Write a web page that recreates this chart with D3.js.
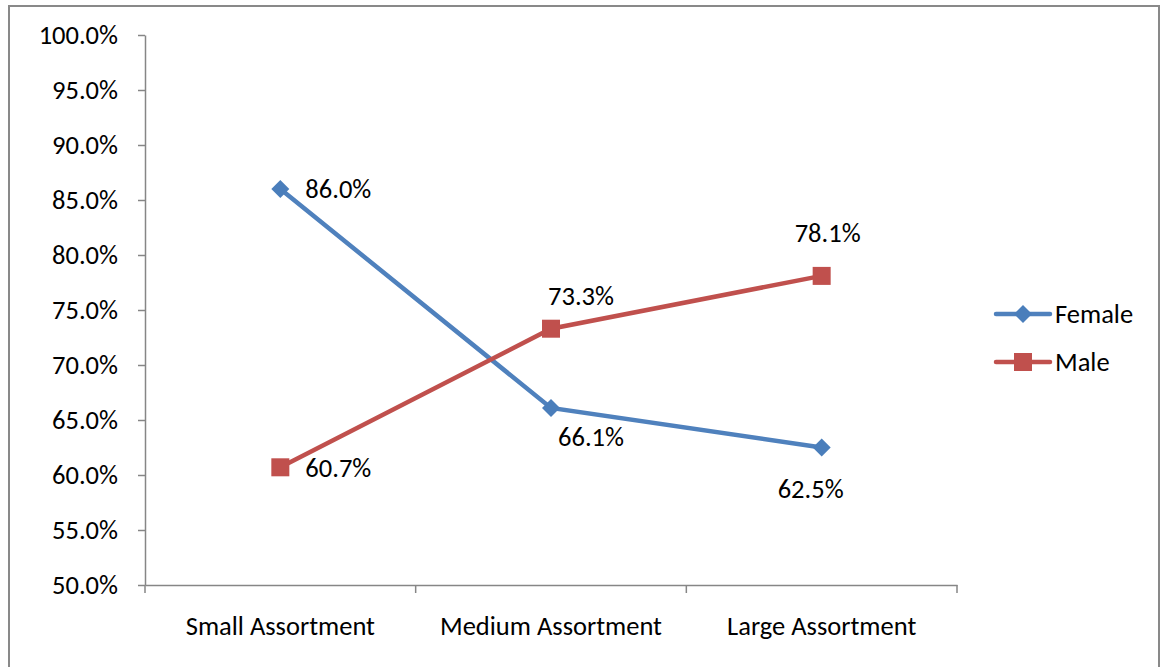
<!DOCTYPE html>
<html><head><meta charset="utf-8">
<script src="https://cdn.jsdelivr.net/npm/d3@7/dist/d3.min.js"></script>
<style>
body{margin:0;background:#fff;}
svg{display:block;font-family:Carlito,Calibri,Lato,"Open Sans",sans-serif;}
</style></head>
<body>
<script>
const categories = ["Small Assortment","Medium Assortment","Large Assortment"];
const femaleValues = [86.0, 66.1, 62.5];
const maleValues = [60.7, 73.3, 78.1];
const seriesNames = ["Female","Male"];
const yTicks = [50,55,60,65,70,75,80,85,90,95,100];
// label placement per point
const femaleLabelPos = ["right","belowRight","below"];
const maleLabelPos = ["right","aboveRight","above"];

(function(){
const W=1160,H=667,FS="26.5px";
const svg=d3.select("body").append("svg").attr("width",W).attr("height",H);
svg.append("rect").attr("x",9).attr("y",6).attr("width",1150).attr("height",700)
  .attr("fill","#fff").attr("stroke","#898989").attr("stroke-width",2);

const pLeft=145,pRight=957,pTop=35,pBottom=585;
const x=d3.scaleBand().domain(categories).range([pLeft,pRight]);
const y=d3.scaleLinear().domain([50,100]).range([pBottom,pTop]);
const fmt=d=>d.toFixed(1)+"%";

const axisColor="#868686";
const yAxis=svg.append("g").attr("transform",`translate(${pLeft},0)`)
  .call(d3.axisLeft(y).tickValues(yTicks).tickFormat(fmt).tickSize(7).tickSizeOuter(0).tickPadding(20));
const xAxis=svg.append("g").attr("transform",`translate(0,${pBottom})`)
  .call(d3.axisBottom(x).tickSize(0).tickSizeOuter(0).tickPadding(31));
[yAxis,xAxis].forEach(g=>{
  g.attr("font-size",null).attr("font-family",null);
  g.select(".domain").attr("stroke",axisColor).attr("stroke-width",1.5);
  g.selectAll(".tick line").attr("stroke",axisColor).attr("stroke-width",1.5);
  g.selectAll("text").attr("fill","#000").style("font-size",FS);
});
// category boundary ticks
const bounds=[...categories.map(c=>x(c)), x(categories[categories.length-1])+x.bandwidth()];
xAxis.selectAll(".btick").data(bounds).enter().append("line").attr("class","btick")
  .attr("x1",d=>d).attr("x2",d=>d).attr("y1",0).attr("y2",8).attr("stroke",axisColor).attr("stroke-width",1.5);

const cx=c=>x(c)+x.bandwidth()/2;
const line=d3.line().x((d,i)=>cx(categories[i])).y(d=>y(d));
const series=[
  {name:seriesNames[0],values:femaleValues,color:"#4f81bd",fill:"#4a7ebb",shape:"diamond",pos:femaleLabelPos},
  {name:seriesNames[1],values:maleValues,color:"#c0504d",fill:"#c0504d",shape:"square",pos:maleLabelPos}
];
function marker(g,s,px,py){
  if(s.shape==="diamond"){
    g.append("path").attr("d",`M${px},${py-9}L${px+9},${py}L${px},${py+9}L${px-9},${py}Z`).attr("fill",s.fill);
  } else {
    g.append("rect").attr("x",px-9).attr("y",py-9).attr("width",18).attr("height",18).attr("fill",s.fill);
  }
}
const offsets={right:[25,0,"start"],belowRight:[40,29,"middle"],below:[-11,41,"middle"],aboveRight:[30,-33,"middle"],above:[6,-43,"middle"]};
series.forEach(s=>{
  svg.append("path").datum(s.values).attr("d",line).attr("fill","none").attr("stroke",s.color).attr("stroke-width",4.5);
  const g=svg.append("g");
  s.values.forEach((v,i)=>marker(g,s,cx(categories[i]),y(v)));
  s.values.forEach((v,i)=>{
    const o=offsets[s.pos[i]];
    svg.append("text").attr("x",cx(categories[i])+o[0]).attr("y",y(v)+o[1]).attr("dy","0.35em")
      .attr("text-anchor",o[2]).style("font-size",FS).text(fmt(v));
  });
});
// legend
const lg=svg.append("g");
series.forEach((s,i)=>{
  const ly=314+i*48;
  lg.append("line").attr("x1",996).attr("x2",1050).attr("y1",ly).attr("y2",ly).attr("stroke",s.color).attr("stroke-width",4.5).attr("stroke-linecap","round");
  marker(lg,s,1023,ly);
  lg.append("text").attr("x",1055).attr("y",ly).attr("dy","0.35em").style("font-size",FS).text(s.name);
});
})();
</script>
</body></html>
